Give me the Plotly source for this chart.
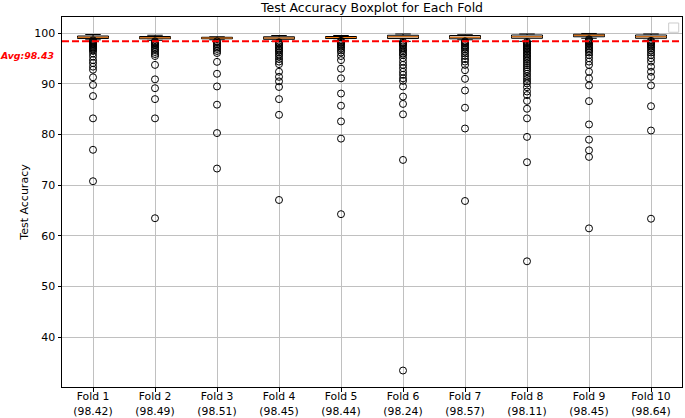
import plotly.graph_objects as go

# ---------------- data ----------------
folds = ["Fold 1", "Fold 2", "Fold 3", "Fold 4", "Fold 5",
         "Fold 6", "Fold 7", "Fold 8", "Fold 9", "Fold 10"]
fold_means = [98.42, 98.49, 98.51, 98.45, 98.44, 98.24, 98.57, 98.11, 98.45, 98.64]
overall_avg = 98.43

q1 = [98.95, 98.90, 98.90, 98.80, 98.95, 98.95, 98.90, 99.00, 99.30, 99.00]
median = [99.20, 99.10, 99.05, 99.05, 99.15, 99.30, 99.20, 99.30, 99.60, 99.30]
q3 = [99.45, 99.35, 99.20, 99.30, 99.35, 99.60, 99.55, 99.65, 99.80, 99.65]
lower_whisker = [98.70, 98.60, 98.70, 98.40, 98.60, 98.40, 98.70, 98.40, 99.00, 98.60]
upper_whisker = [99.75, 99.60, 99.30, 99.55, 99.55, 99.85, 99.70, 99.85, 99.95, 99.85]

outliers_f1 = [98.6, 98.4, 98.2, 98.0, 97.8, 97.6, 97.4, 97.2, 97.0, 96.8, 96.5, 96.0,
               95.4, 94.7, 94.1, 93.4, 92.8, 91.3, 89.8, 87.6, 83.2, 77.0, 70.8]
outliers_f2 = [98.4, 98.2, 98.0, 97.8, 97.6, 97.3, 97.0, 96.7, 96.3, 95.9, 95.5,
               93.75, 90.9, 89.15, 87.0, 83.2, 63.5]
outliers_f3 = [98.4, 98.1, 97.8, 97.5, 97.2, 96.9, 96.5, 96.1, 94.35, 92.0, 89.5,
               85.9, 80.3, 73.3]
outliers_f4 = [98.2, 98.0, 97.7, 97.4, 97.1, 96.8, 96.5, 96.2, 95.8, 95.4, 94.9, 94.4,
               93.9, 92.4, 91.4, 90.5, 89.4, 87.0, 83.9, 67.1]
outliers_f5 = [98.5, 98.3, 98.1, 97.9, 97.6, 97.3, 97.0, 96.6, 96.2, 95.5, 94.7, 93.0,
               91.1, 88.1, 85.7, 82.6, 79.2, 64.3]
outliers_f6 = [98.3, 98.1, 97.9, 97.7, 97.4, 97.0, 96.7, 96.4, 96.0, 95.7, 95.1, 94.4,
               93.75, 93.1, 92.4, 91.8, 91.1, 90.6, 89.5, 87.5, 86.05, 84.0, 75.0, 33.45]
outliers_f7 = [98.4, 98.2, 98.0, 97.7, 97.4, 97.1, 96.8, 96.4, 96.0, 95.5, 94.9, 94.4,
               93.75, 92.7, 91.0, 88.7, 85.3, 81.2, 66.9]
outliers_f8 = [98.3, 98.1, 97.9, 97.7, 97.5, 97.3, 97.1, 96.9, 96.7, 96.4, 96.1, 95.8,
               95.5, 95.2, 94.9, 94.5, 94.1, 93.7, 93.3, 92.9, 92.5, 92.0, 91.5, 91.0,
               90.5, 90.1, 89.35, 88.5, 87.8, 86.65, 85.1, 83.2, 79.55, 74.55, 55.0]
outliers_f9 = [98.8, 98.6, 98.4, 98.2, 98.0, 97.7, 97.4, 97.1, 96.8, 96.5, 96.2, 95.7,
               95.07, 94.4, 93.75, 92.4, 91.1, 89.7, 86.6, 82.0, 79.0, 76.9, 75.6, 61.5]
outliers_f10 = [98.5, 98.3, 98.1, 97.9, 97.6, 97.3, 97.0, 96.6, 96.2, 95.7, 95.07, 94.4,
                93.4, 92.4, 91.4, 89.7, 85.6, 80.8, 63.4]

outliers = [outliers_f1, outliers_f2, outliers_f3, outliers_f4, outliers_f5,
            outliers_f6, outliers_f7, outliers_f8, outliers_f9, outliers_f10]

tick_labels = [f"{f}<br>({m:.2f})" for f, m in zip(folds, fold_means)]
positions = list(range(1, len(folds) + 1))

# ---------------- figure ----------------
FONT = "DejaVu Sans"
BOX_W = 0.5

fig = go.Figure()

fig.add_trace(go.Box(
    x=positions, q1=q1, median=median, q3=q3,
    lowerfence=lower_whisker, upperfence=upper_whisker,
    width=BOX_W, whiskerwidth=0.5, boxpoints=False,
    line=dict(color="black", width=1), fillcolor="rgba(255,255,255,1)",
    showlegend=False, hoverinfo="skip",
))

# orange median lines
mx, my = [], []
for p, m in zip(positions, median):
    mx += [p - BOX_W / 2, p + BOX_W / 2, None]
    my += [m, m, None]
fig.add_trace(go.Scatter(x=mx, y=my, mode="lines",
                         line=dict(color="#ff7f0e", width=1),
                         showlegend=False, hoverinfo="skip"))

# outliers
ox, oy = [], []
for p, vals in zip(positions, outliers):
    ox += [p] * len(vals)
    oy += vals
fig.add_trace(go.Scatter(x=ox, y=oy, mode="markers",
                         marker=dict(symbol="circle-open", size=7, color="black",
                                     line=dict(width=1)),
                         showlegend=False, hoverinfo="skip"))

# average line
fig.add_shape(type="line", xref="paper", x0=0, x1=1, yref="y",
              y0=overall_avg, y1=overall_avg,
              line=dict(color="red", width=2, dash="7px,3px"), layer="above")

fig.add_annotation(xref="paper", x=0, xanchor="right", xshift=-6,
                   yref="y", y=overall_avg, yanchor="middle", yshift=-14,
                   text=f"<b><i>Avg:{overall_avg:.2f}</i></b>", showarrow=False,
                   font=dict(family=FONT, size=9.4, color="red"))

# empty legend box (top right)
fig.add_shape(type="rect", xref="paper", yref="paper",
              x0=0.9785, x1=0.9947, y0=0.9587, y1=0.9838,
              line=dict(color="#cccccc", width=1), fillcolor="white", layer="above")

fig.update_layout(
    width=685, height=418,
    margin=dict(l=62, r=3, t=17, b=31),
    paper_bgcolor="white", plot_bgcolor="white",
    font=dict(family=FONT, size=11, color="black"),
    title=dict(text="Test Accuracy Boxplot for Each Fold", x=0.5, xref="paper",
               xanchor="center", y=1 - 8 / 418, yref="container", yanchor="middle",
               font=dict(family=FONT, size=12.5, color="black")),
    showlegend=False,
)

fig.update_xaxes(range=[0.5, 10.5], tickmode="array", tickvals=positions,
                 ticktext=tick_labels, showgrid=True, gridcolor="#c0c0c0",
                 gridwidth=1, zeroline=False, showline=True, linecolor="black",
                 linewidth=1, mirror=True, ticks="outside", ticklen=3.5,
                 tickcolor="black", tickfont=dict(size=10.8), automargin=False,
                 ticklabelstandoff=-4)
fig.update_yaxes(range=[30.2, 103.2], tickmode="array",
                 tickvals=[40, 50, 60, 70, 80, 90, 100],
                 showgrid=True, gridcolor="#c0c0c0", gridwidth=1, zeroline=False,
                 showline=True, linecolor="black", linewidth=1, mirror=True,
                 ticks="outside", ticklen=3.5, tickcolor="black",
                 tickfont=dict(size=11), automargin=False,
                 title=dict(text="Test Accuracy", font=dict(size=11), standoff=3))

fig.write_html("out.html",
               config={"displayModeBar": False},
               post_script="document.body.style.margin='0';"
                           "document.body.style.overflow='hidden';")
